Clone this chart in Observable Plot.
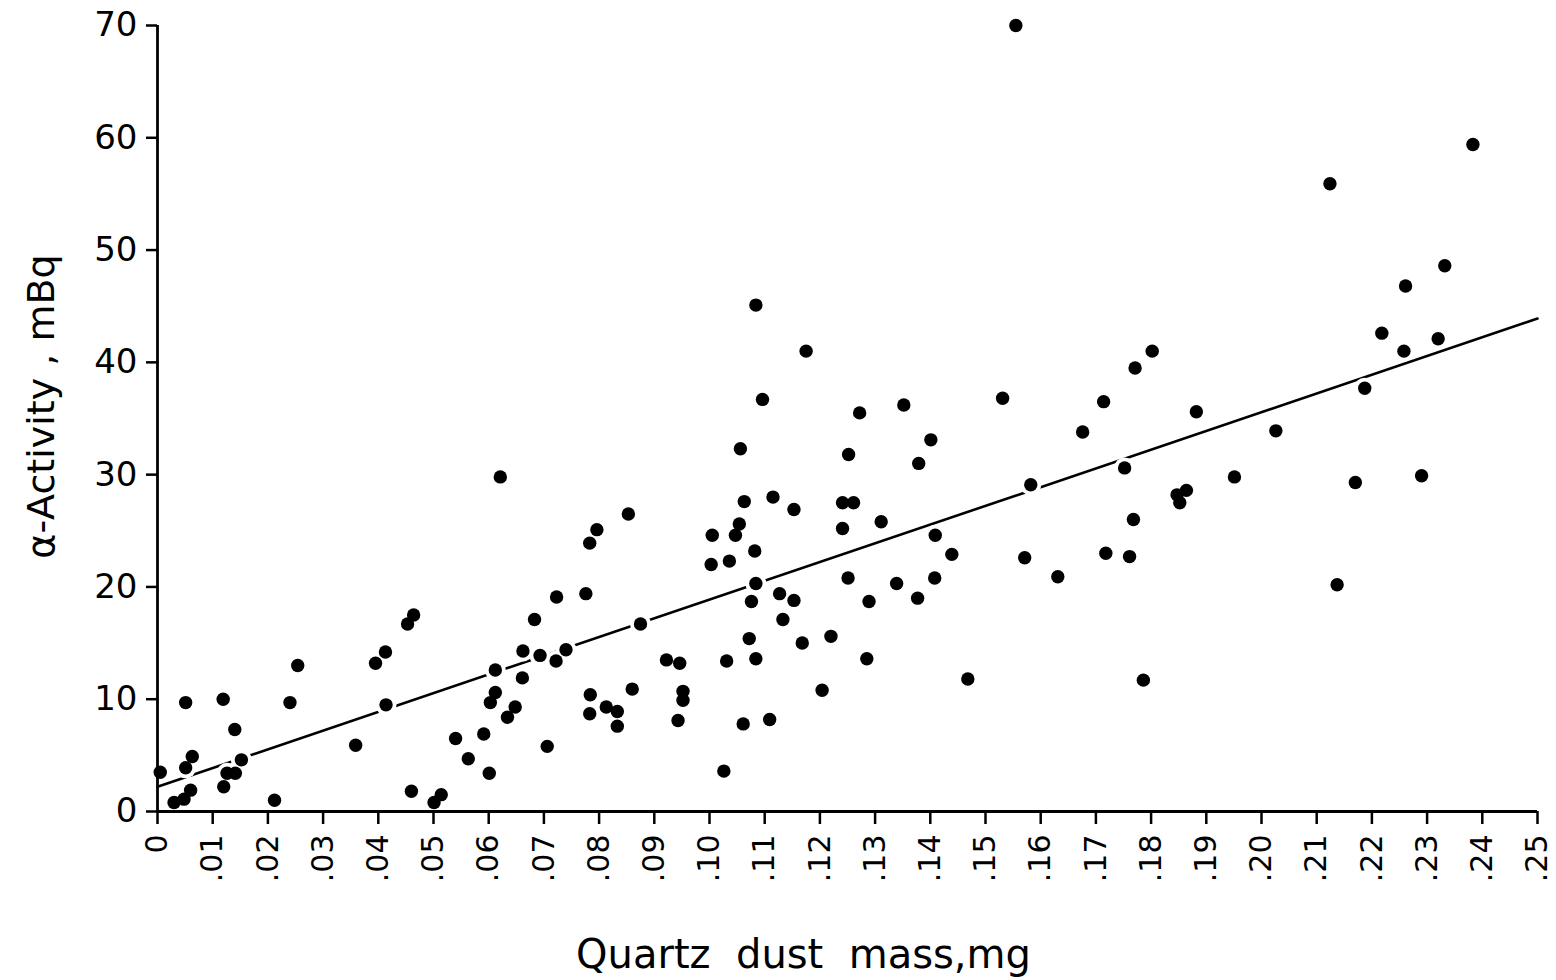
<!DOCTYPE html>
<html>
<head>
<meta charset="utf-8">
<script src="https://cdn.jsdelivr.net/npm/d3@7"></script>
<script src="https://cdn.jsdelivr.net/npm/@observablehq/plot@0.6"></script>
<style>
  html, body { margin: 0; padding: 0; background: #fff; }
  svg { display: block; }
</style>
</head>
<body>
<div id="chart"></div>
<script>
// Quartz dust mass (mg) of each sample
const massMg = [
  0.0005, 0.003, 0.0048, 0.006, 0.0051, 0.0051, 0.0063, 0.012, 0.0119, 0.0126,
  0.0141, 0.014, 0.0152, 0.0212, 0.024, 0.0254, 0.0359, 0.0395, 0.0413, 0.0414,
  0.046, 0.0501, 0.0514, 0.054, 0.0563, 0.0591, 0.0601, 0.0603, 0.0612, 0.0612,
  0.0634, 0.0648, 0.0661, 0.0662, 0.0693, 0.0706, 0.0621, 0.0464, 0.0453, 0.1056,
  0.1063, 0.1115, 0.1153, 0.0853, 0.0796, 0.0783, 0.1005, 0.1054, 0.1047, 0.1082,
  0.1003, 0.1036, 0.1084, 0.1076, 0.1127, 0.1153, 0.1133, 0.0723, 0.0776, 0.0683,
  0.0875, 0.074, 0.0722, 0.0922, 0.0946, 0.1031, 0.1084, 0.1072, 0.0784, 0.086,
  0.0783, 0.0813, 0.0833, 0.0833, 0.0952, 0.0952, 0.0943, 0.1061, 0.1109, 0.1026,
  0.1168, 0.1084, 0.1175, 0.1096, 0.1531, 0.1272, 0.1352, 0.1401, 0.1252, 0.1379,
  0.1241, 0.1261, 0.1241, 0.1311, 0.1409, 0.1439, 0.1251, 0.1339, 0.1408, 0.1289,
  0.1377, 0.122, 0.1285, 0.1468, 0.1204, 0.1802, 0.1771, 0.1714, 0.1676, 0.1882,
  0.2026, 0.1582, 0.1752, 0.1951, 0.1864, 0.1847, 0.1852, 0.1768, 0.1571, 0.1718,
  0.1761, 0.1631, 0.1786, 0.2218, 0.2258, 0.232, 0.2187, 0.217, 0.229, 0.2137,
  0.2383, 0.2124, 0.2332, 0.2261, 0.1555
];
// alpha-activity (mBq) of each sample
const activityMBq = [
  3.5, 0.8, 1.1, 1.9, 9.7, 3.9, 4.9, 2.2, 10.0, 3.4,
  3.4, 7.3, 4.6, 1.0, 9.7, 13.0, 5.9, 13.2, 14.2, 9.5,
  1.8, 0.8, 1.5, 6.5, 4.7, 6.9, 3.4, 9.7, 10.6, 12.6,
  8.4, 9.3, 11.9, 14.3, 13.9, 5.8, 29.8, 17.5, 16.7, 32.3,
  27.6, 28.0, 26.9, 26.5, 25.1, 23.9, 24.6, 25.6, 24.6, 23.2,
  22.0, 22.3, 20.3, 18.7, 19.4, 18.8, 17.1, 19.1, 19.4, 17.1,
  16.7, 14.4, 13.4, 13.5, 13.2, 13.4, 13.6, 15.4, 10.4, 10.9,
  8.7, 9.3, 8.9, 7.6, 10.7, 9.9, 8.1, 7.8, 8.2, 3.6,
  15.0, 45.1, 41.0, 36.7, 36.8, 35.5, 36.2, 33.1, 31.8, 31.0,
  27.5, 27.5, 25.2, 25.8, 24.6, 22.9, 20.8, 20.3, 20.8, 18.7,
  19.0, 15.6, 13.6, 11.8, 10.8, 41.0, 39.5, 36.5, 33.8, 35.6,
  33.9, 29.1, 30.6, 29.8, 28.6, 28.2, 27.5, 26.0, 22.6, 23.0,
  22.7, 20.9, 11.7, 42.6, 41.0, 42.1, 37.7, 29.3, 29.9, 20.2,
  59.4, 55.9, 48.6, 46.8, 70.0
];
// fitted regression line end points
const fitMass = [0, 0.25];
const fitActivity = [2.2, 43.9];

// axis ticks
const xTickValues = [0, 0.01, 0.02, 0.03, 0.04, 0.05, 0.06, 0.07, 0.08, 0.09, 0.10, 0.11, 0.12,
                     0.13, 0.14, 0.15, 0.16, 0.17, 0.18, 0.19, 0.20, 0.21, 0.22, 0.23, 0.24, 0.25];
const xTickLabels = ["0", ".01", ".02", ".03", ".04", ".05", ".06", ".07", ".08", ".09", ".10", ".11", ".12",
                     ".13", ".14", ".15", ".16", ".17", ".18", ".19", ".20", ".21", ".22", ".23", ".24", ".25"];
const yTickValues = [0, 10, 20, 30, 40, 50, 60, 70];
const yTickLabels = ["0", "10", "20", "30", "40", "50", "60", "70"];

const xTitle = "Quartz  dust  mass,mg";
const yTitle = "\u03B1-Activity , mBq";

const points = massMg.map((m, i) => ({mass: m, activity: activityMBq[i]}));
const fit = fitMass.map((m, i) => ({mass: m, activity: fitActivity[i]}));
const xLab = new Map(xTickValues.map((v, i) => [v, xTickLabels[i]]));
const yLab = new Map(yTickValues.map((v, i) => [v, yTickLabels[i]]));

const chart = Plot.plot({
  width: 1556,
  height: 980,
  marginTop: 25,
  marginBottom: 169,
  marginLeft: 157,
  marginRight: 19,
  style: {fontFamily: "DejaVu Sans", color: "#000", background: "#fff", overflow: "visible"},
  x: {domain: [0, 0.25]},
  y: {domain: [0, 70]},
  marks: [
    Plot.line(fit, {x: "mass", y: "activity", stroke: "#000", strokeWidth: 2.6}),
    Plot.dot(points, {x: "mass", y: "activity", r: 10.5, fill: "#fff"}),
    Plot.ruleY([0], {stroke: "#000", strokeWidth: 2.8}),
    Plot.ruleX([0], {stroke: "#000", strokeWidth: 2.8}),
    Plot.axisX({ticks: xTickValues, tickFormat: d => xLab.get(d), tickRotate: -90,
                tickSize: 13, tickPadding: 10, fontSize: 30, strokeWidth: 2.5, label: null}),
    Plot.axisY({ticks: yTickValues, tickFormat: d => yLab.get(d),
                tickSize: 11, tickPadding: 9, fontSize: 34, strokeWidth: 2.5, label: null}),
    Plot.dot(points, {x: "mass", y: "activity", r: 6.7, fill: "#000"}),
    Plot.text([xTitle], {frameAnchor: "bottom", textAnchor: "middle", dx: -44, dy: 156, fontSize: 40, fill: "#000"}),
    Plot.text([yTitle], {frameAnchor: "left", textAnchor: "middle", lineAnchor: "middle", rotate: -90,
                         dx: -116, dy: -12, fontSize: 38, fill: "#000"})
  ]
});
document.getElementById("chart").appendChild(chart);
</script>
</body>
</html>
